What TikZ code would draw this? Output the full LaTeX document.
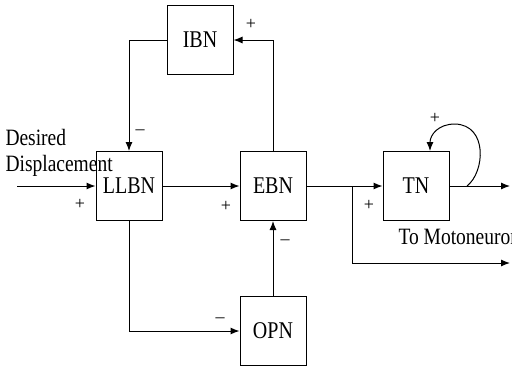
\documentclass[tikz,border=0pt]{standalone}
\usepackage{fontspec}
\usepackage{graphicx}
\setmainfont{Liberation Serif}
\usetikzlibrary{arrows.meta,positioning,calc}
\newcommand{\tall}[1]{\scalebox{1}[1.2]{#1}}

\begin{document}
\begin{tikzpicture}[x=1pt,y=-1pt,line width=1pt,>={Latex[length=9pt,width=7pt]},
  box/.style={draw,minimum width=66pt,minimum height=69pt,inner sep=0pt,font=\fontsize{20}{22}\selectfont},
  lbl/.style={font=\fontsize{19.5}{21}\selectfont,inner sep=0pt,anchor=west},
  sign/.style={font=\fontsize{18}{19}\selectfont,inner sep=0pt}]
  \useasboundingbox (0,0) rectangle (512,368);
  \node[box] (ibn) at (200,40) {\tall{IBN}};
  \node[box] (llbn) at (129,186) {\tall{LLBN}};
  \node[box] (ebn) at (273,186) {\tall{EBN}};
  \node[box] (tn) at (416,186) {\tall{TN}};
  \node[box] (opn) at (273,331) {\tall{OPN}};
  \node[lbl] (des) at (5,137) {\tall{Desired}};
  \node[lbl] (disp) at (5,166) {\tall{Displacement}};
  \node[lbl] (mot) at (398,237) {\tall{To Motoneuron}};
  \coordinate (src) at (17,186);
  \coordinate (br) at (352,186);
  \coordinate (out) at (510,186);
  \coordinate (mn) at (510,263);
  \coordinate (lp) at (467,186);
  \draw[->] (src) -- (llbn); \draw[->] (llbn) -- (ebn);
  \draw[->] (ebn) -- (tn); \draw[->] (tn) -- (out);
  \draw[->] (ebn.north) |- (ibn); \draw[->] (ibn) -| (llbn);
  \draw[->] (llbn) |- (opn); \draw[->] (opn) -- (ebn);
  \draw[->] (br) |- (mn);
  \draw[->] (lp) .. controls (485,172) and (488,125) .. (455,124)
    .. controls (438,124) and (430,135) .. ($(tn.north)+(14,0)$);
  \node[sign] (s1) at (80,204) {+};
  \node[sign] (s2) at (140,132) {\textendash};
  \node[sign] (s3) at (226,206) {+};
  \node[sign] (s4) at (251,24) {+};
  \node[sign] (s5) at (285,242) {\textendash};
  \node[sign] (s6) at (220,320) {\textendash};
  \node[sign] (s7) at (369,205) {+};
  \node[sign] (s8) at (435,118) {+};
\end{tikzpicture}
\end{document}
